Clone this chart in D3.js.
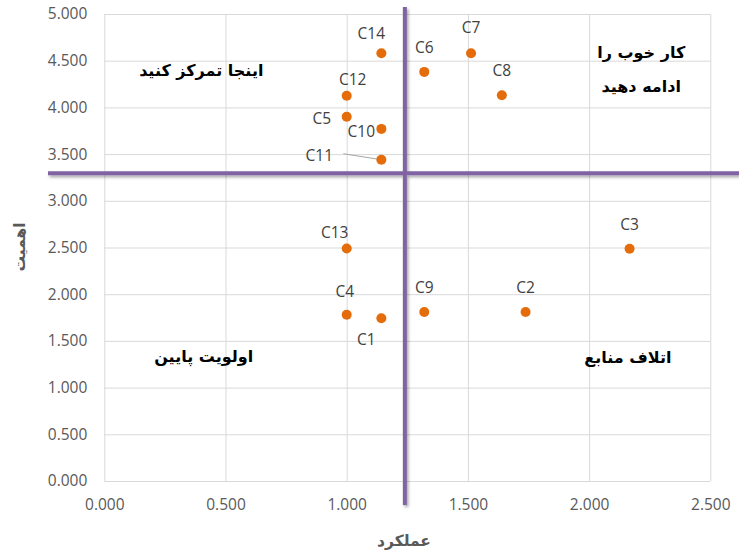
<!DOCTYPE html>
<html>
<head>
<meta charset="utf-8">
<script src="https://cdn.jsdelivr.net/npm/d3@7"></script>
<style>
  html, body { margin: 0; padding: 0; background: #fff; }
  svg { display: block; }
  .tick text { font-family: "Open Sans", "Noto Sans", sans-serif; }
</style>
</head>
<body>
<svg id="chart" width="739" height="557"></svg>
<script>
// Criteria: performance (عملکرد) vs importance (اهمیت)
const names       = ["C1", "C2", "C3", "C4", "C5", "C6", "C7", "C8", "C9", "C10", "C11", "C12", "C13", "C14"];
const performance = [1.143, 1.738, 2.167, 1.000, 1.000, 1.320, 1.513, 1.640, 1.320, 1.143, 1.143, 1.000, 1.000, 1.143];
const importance  = [1.743, 1.810, 2.487, 1.780, 3.900, 4.380, 4.580, 4.130, 1.810, 3.770, 3.440, 4.125, 2.490, 4.580];

// Quadrant dividers (mean performance / mean importance)
const performanceCut = 1.24;
const importanceCut  = 3.295;

const xTicks = [0, 0.5, 1.0, 1.5, 2.0, 2.5];
const yTicks = [0, 0.5, 1.0, 1.5, 2.0, 2.5, 3.0, 3.5, 4.0, 4.5, 5.0];

const quadrantTitles = [
  { lines: ["اینجا تمرکز کنید"], x: 0.40, y: 4.40 },
  { lines: ["کار خوب را", "ادامه دهید"], x: 2.215, y: 4.593 },
  { lines: ["اولویت پایین"], x: 0.41, y: 1.341 },
  { lines: ["اتلاف منابع"], x: 2.16, y: 1.331 }
];

// Label placement for each point label, in pixels from the marker
const labelOffsets = {
  C1: [-15, 21], C2: [0, -25], C3: [0, -25], C4: [-2, -24], C5: [-25, 1],
  C6: [0, -25], C7: [0, -26], C8: [0, -25], C9: [0, -25], C10: [-20, 2],
  C11: [-62, -5], C12: [6, -17], C13: [-12, -16], C14: [-10, -20]
};

const svg = d3.select("#chart");
const W = 739, H = 557;
const plot = { left: 104.3, right: 710.3, top: 14, bottom: 481 };

const x = d3.scaleLinear().domain([0, 2.5]).range([plot.left, plot.right]);
const y = d3.scaleLinear().domain([0, 5]).range([plot.bottom, plot.top]);

const fmt = d3.format(".3f");
const gridColor = "#d9d9d9";
const textGray = "#595959";

// Shadow for the quadrant dividers
const defs = svg.append("defs");
const f = defs.append("filter").attr("id", "lineShadow")
  .attr("x", "-50%").attr("y", "-50%").attr("width", "200%").attr("height", "200%");
f.append("feDropShadow").attr("dx", 1.5).attr("dy", 2).attr("stdDeviation", 1.6)
  .attr("flood-color", "#000").attr("flood-opacity", 0.35);

// Gridlines
svg.append("g")
  .attr("transform", `translate(0,${plot.bottom})`)
  .call(d3.axisBottom(x).tickValues(xTicks).tickSize(-(plot.bottom - plot.top)).tickFormat(""))
  .call(g => g.select(".domain").remove())
  .call(g => g.selectAll("line").attr("stroke", gridColor).attr("stroke-width", 1));

svg.append("g")
  .attr("transform", `translate(${plot.left},0)`)
  .call(d3.axisLeft(y).tickValues(yTicks).tickSize(-(plot.right - plot.left)).tickFormat(""))
  .call(g => g.select(".domain").remove())
  .call(g => g.selectAll("line").attr("stroke", gridColor).attr("stroke-width", 1));

// Axis tick labels
svg.append("g")
  .attr("transform", `translate(0,${plot.bottom})`)
  .call(d3.axisBottom(x).tickValues(xTicks).tickSize(0).tickPadding(18).tickFormat(fmt))
  .call(g => g.select(".domain").remove())
  .call(g => g.selectAll("text").attr("fill", textGray).attr("font-size", "15.5px"));

svg.append("g")
  .attr("transform", `translate(${plot.left},0)`)
  .call(d3.axisLeft(y).tickValues(yTicks).tickSize(0).tickPadding(17).tickFormat(fmt))
  .call(g => g.select(".domain").remove())
  .call(g => g.selectAll("text").attr("fill", textGray).attr("font-size", "15.5px"));

// Axis titles
svg.append("text")
  .attr("x", 404).attr("y", 541)
  .attr("text-anchor", "middle")
  .attr("dominant-baseline", "central")
  .attr("font-family", "'DejaVu Sans', sans-serif")
  .attr("font-weight", "bold").attr("font-size", "15.5px")
  .attr("fill", textGray)
  .attr("direction", "rtl")
  .text("عملکرد");

svg.append("text")
  .attr("transform", "translate(20,247) rotate(-90)")
  .attr("text-anchor", "middle")
  .attr("dominant-baseline", "central")
  .attr("font-family", "'DejaVu Sans', sans-serif")
  .attr("font-weight", "bold").attr("font-size", "15.5px")
  .attr("fill", textGray)
  .attr("direction", "rtl")
  .text("اهمیت");

// Quadrant dividers
const dividers = svg.append("g").attr("filter", "url(#lineShadow)");
dividers.append("line")
  .attr("x1", 48).attr("x2", W)
  .attr("y1", y(importanceCut)).attr("y2", y(importanceCut))
  .attr("stroke", "#8064a2").attr("stroke-width", 4);
dividers.append("line")
  .attr("x1", x(performanceCut)).attr("x2", x(performanceCut))
  .attr("y1", 7).attr("y2", 505)
  .attr("stroke", "#8064a2").attr("stroke-width", 4);

// Quadrant titles
quadrantTitles.forEach(q => {
  const t = svg.append("text")
    .attr("x", x(q.x)).attr("y", y(q.y))
    .attr("text-anchor", "middle")
    .attr("dominant-baseline", "central")
    .attr("font-family", "'DejaVu Sans', sans-serif")
    .attr("font-weight", "bold").attr("font-size", "16px")
    .attr("fill", "#000")
    .attr("direction", "rtl");
  q.lines.forEach((line, i) => {
    t.append("tspan").attr("x", x(q.x)).attr("dy", i === 0 ? 0 : 34).text(line);
  });
});

const points = names.map((n, i) => ({ name: n, px: performance[i], py: importance[i] }));

// Leader line for C11
const c11 = points.find(p => p.name === "C11");
svg.append("line")
  .attr("x1", x(c11.px) - 38).attr("y1", y(c11.py) - 6)
  .attr("x2", x(c11.px)).attr("y2", y(c11.py))
  .attr("stroke", "#a6a6a6").attr("stroke-width", 1);

// Markers
svg.append("g").selectAll("circle")
  .data(points).join("circle")
  .attr("cx", d => x(d.px)).attr("cy", d => y(d.py))
  .attr("r", 5)
  .attr("fill", "#e46c0a");

// Point labels
svg.append("g").selectAll("text")
  .data(points).join("text")
  .attr("x", d => x(d.px) + labelOffsets[d.name][0])
  .attr("y", d => y(d.py) + labelOffsets[d.name][1])
  .attr("text-anchor", "middle")
  .attr("dominant-baseline", "central")
  .attr("font-family", "'Open Sans', 'Noto Sans', sans-serif")
  .attr("font-size", "15.5px")
  .attr("fill", "#404040")
  .text(d => d.name);
</script>
</body>
</html>
